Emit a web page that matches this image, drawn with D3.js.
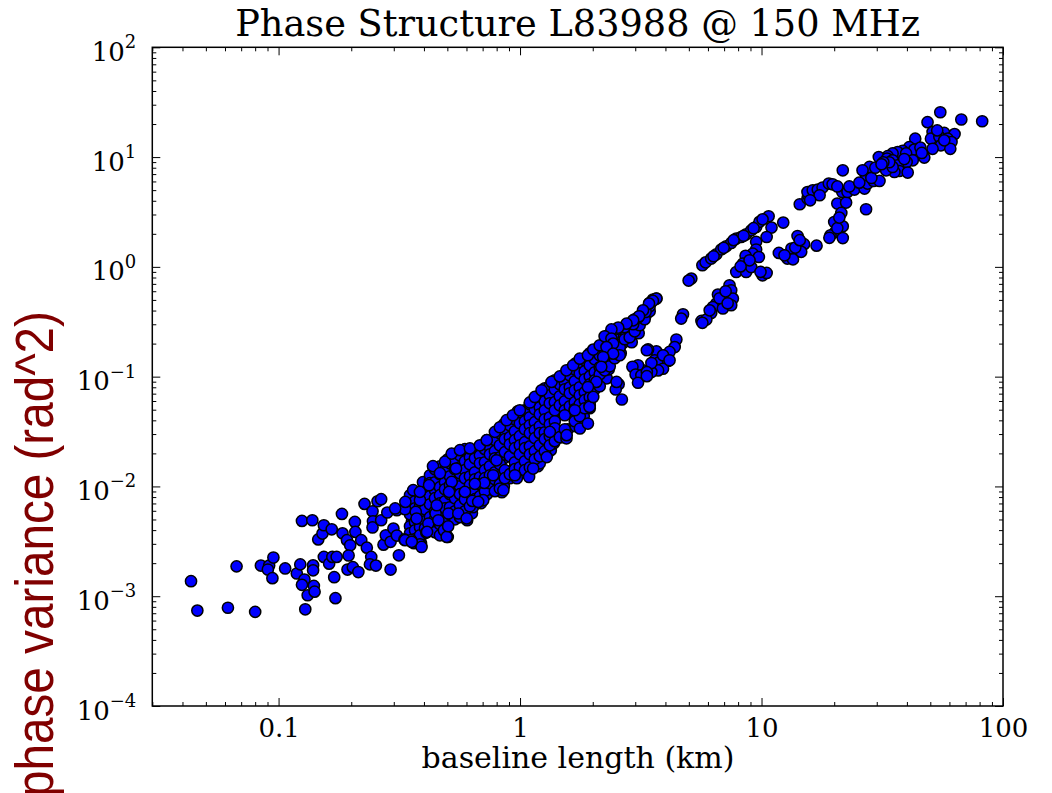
<!DOCTYPE html>
<html>
<head>
<meta charset="utf-8">
<script src="https://cdn.jsdelivr.net/npm/d3@7"></script>
<style>
  body { margin: 0; background: #fff; }
  svg { display: block; }
</style>
</head>
<body>
<div id="chart"></div>
<script>
// ---- data ----
const chartTitle = "Phase Structure L83988 @ 150 MHz";
const xAxisLabel = "baseline length (km)";
const yAxisLabel = "phase variance (rad^2)";

const xMajorTicks = [0.1, 1, 10, 100];
const xTickLabels = ["0.1", "1", "10", "100"];
const yMajorExponents = [-4, -3, -2, -1, 0, 1, 2];

// sparse short-baseline tail, [baseline km, variance rad^2]
const tailPoints = [
  [0.0434,0.00137],[0.0461,0.00074],[0.0617,0.000785],[0.080,0.00072],[0.067,0.00187],
  [0.0845,0.0019],[0.0914,0.0019],[0.0903,0.00175],[0.0943,0.00146],[0.0952,0.00225],
  [0.1065,0.00179],[0.125,0.00485],[0.138,0.00492],[0.119,0.00161],[0.123,0.00195],
  [0.128,0.00142],[0.125,0.00127],[0.132,0.00102],[0.129,0.00076],[0.139,0.00191],
  [0.139,0.00172],[0.140,0.00124],[0.141,0.0011],[0.146,0.00329],[0.152,0.00372],
  [0.154,0.00443],[0.166,0.00407],[0.154,0.00228],[0.162,0.00198],[0.167,0.00228],
  [0.174,0.00228],[0.170,0.00149],[0.172,0.00096],[0.183,0.00562],[0.184,0.00374],
  [0.192,0.00324],[0.198,0.00291],[0.195,0.00235],[0.193,0.00175],[0.203,0.00184],
  [0.214,0.00166],[0.207,0.00475],[0.208,0.00385],[0.220,0.00324],[0.232,0.00277],
  [0.227,0.00693],[0.242,0.00228],[0.239,0.00195],[0.253,0.0019],[0.245,0.00594],
  [0.246,0.00482],[0.245,0.00423],[0.257,0.00733],[0.266,0.00765],[0.266,0.00492],
  [0.272,0.00295],[0.278,0.00359],[0.291,0.00313],[0.291,0.00175],[0.299,0.00413],
  [0.309,0.00357],[0.315,0.00236],[0.282,0.00579],[0.309,0.00607],[0.334,0.0062],
  [0.335,0.00723],[0.332,0.00329],[0.354,0.00324],[0.370,0.00586],[0.373,0.0051],
  [0.391,0.00281],[0.383,0.0088],[0.409,0.0038],[0.417,0.00459],[0.447,0.00567],
  [0.459,0.00492],[0.436,0.0153],[0.466,0.0132],[0.489,0.0168],[0.505,0.00567],
  [0.502,0.00347],[0.484,0.00399],[0.555,0.00567],[0.604,0.00492],[0.591,0.00892],
  [0.634,0.00738],[0.521,0.0110],[0.543,0.01455],[0.508,0.00892],[0.452,0.00674],
  [0.420,0.01026],[0.385,0.00749],[0.711,0.01076],[0.704,0.00749],[0.650,0.01056],
  [0.774,0.01265],[0.799,0.0173],[0.304,0.0063],[0.361,0.00924],[0.385,0.00892]
];

// dense core band, first pass: one baseline per column, variances seen in that column
const bandBaselinesA = [
  0.357,0.3638,0.3889,0.3963,0.4236,0.4572,0.4616,0.4935,0.5028,0.5479,
  0.5637,0.5856,0.6319,0.638,0.6885,0.7153,0.729,0.7942,0.8407,0.857,
  0.9073,0.9699,0.979,1.057,1.088,1.185,1.207,1.242,1.341,1.380,
  1.489,1.532,1.577,1.701,1.801,1.835,1.944,2.000,2.159,2.285,
  2.330,2.467,2.612,2.661,2.900,2.984,3.099,3.313,3.442
];
const bandVariancesA = [
  [0.00703,0.00633,0.00482,0.00434,0.00311],
  [0.00832,0.00718,0.00503,0.00452,0.00344,0.00304],
  [0.00868,0.00749,0.0066,0.00482,0.00407,0.00304],
  [0.01093,0.00798,0.00674,0.00571,0.00408,0.00367],
  [0.01115,0.01005,0.00703,0.0062,0.00472,0.00425],
  [0.01213,0.01048,0.00781,0.00718,0.00547,0.00408,0.00374],
  [0.01465,0.0107,0.00943,0.00689,0.00646,0.00482,0.00399],
  [0.01435,0.01347,0.01004,0.00868,0.00646,0.00558,0.00416],
  [0.01766,0.01347,0.01239,0.00868,0.00749,0.00633,0.00482],
  [0.01803,0.01627,0.01238,0.01093,0.00765,0.00688,0.00525],
  [0.01804,0.01293,0.01163,0.00886,0.00798,0.00594],
  [0.0188,0.01661,0.01188,0.01048,0.00798,0.00733,0.00547],
  [0.02052,0.01766,0.01293,0.01188,0.00905,0.00798,0.0057],
  [0.02045,0.01527,0.01319,0.00963,0.0085,0.00646],
  [0.02095,0.01882,0.01347,0.01139,0.00964,0.00703],
  [0.02225,0.0196,0.01435,0.01347,0.01004,0.00868],
  [0.0264,0.02052,0.01842,0.01375,0.01163,0.0085],
  [0.03056,0.02225,0.0196,0.01496,0.01376,0.01004],
  [0.03117,0.02812,0.02095,0.01766,0.01319,0.01188,0.00886],
  [0.03686,0.02696,0.02472,0.01803,0.01347,0.01004],
  [0.03765,0.03318,0.02532,0.02328,0.01375,0.01188],
  [0.04641,0.03534,0.0312,0.0218,0.0192,0.01593,0.01188],
  [0.04836,0.04363,0.03117,0.02695,0.02009,0.01804,0.01405],
  [0.04739,0.0339,0.02992,0.02273,0.02003,0.01527],
  [0.04737,0.04182,0.0299,0.02812,0.02095,0.01766,0.01319],
  [0.05605,0.04179,0.03928,0.0281,0.0237,0.02003,0.01527],
  [0.05612,0.05044,0.03926,0.03461,0.02532,0.02232,0.01624],
  [0.07061,0.05265,0.04543,0.0339,0.03188,0.0232,0.02045],
  [0.07362,0.06497,0.04545,0.04182,0.03117,0.02695,0.0214],
  [0.08893,0.06628,0.05726,0.04179,0.03686,0.02696,0.02472],
  [0.0889,0.07843,0.05728,0.05044,0.03182,0.02812],
  [0.1051,0.07841,0.0721,0.05265,0.0293],
  [0.1073,0.09669,0.07362,0.06637,0.04737,0.03318],
  [0.1325,0.09467,0.08525,0.06492,0.05847,0.03534],
  [0.1381,0.1217,0.0889,0.07678,0.05728,0.05152,0.03689],
  [0.1382,0.09868,0.08709,0.06357,0.05605,0.04357],
  [0.1353,0.1167,0.08528,0.08009,0.05972,0.05152],
  [0.16,0.1193,0.1073,0.08175,0.0721],
  [0.1669,0.1503,0.1119,0.09465],
  [0.2015,0.1534,0.1382,0.09662],
  [0.2101,0.1815,0.1325,0.1167],
  [0.2538,0.1853,0.16],
  [0.2538,0.2191,0.1634],
  [0.2333,0.2015],
  [0.2702,0.2058],
  [0.2819,0.2485],
  [0.3333,0.2485],
  [0.3623],
  [0.394]
];

// dense core band, second pass (points lying between the first-pass ones)
const bandBaselinesB = [
  0.3502,0.3673,0.3852,0.404,0.4236,0.4443,0.466,0.4888,0.5125,0.5376,
  0.5637,0.5912,0.62,0.6503,0.682,0.7153,0.7501,0.7867,0.8249,0.8652,
  0.9073,0.9516,0.998,1.047,1.098,1.151,1.207,1.266,1.328,1.393,
  1.461,1.532,1.607,1.685,1.767,1.853,1.944,2.039,2.138,2.242,
  2.352,2.467,2.587,2.713,2.845,2.984,3.129,3.282,3.442
];
const bandVariancesB = [
  [0.00832,0.00646,0.00558,0.00434,0.00374],
  [0.00733,0.00633,0.00472,0.00399,0.00331],
  [0.0085,0.0066,0.00571,0.00425,0.00359,0.00297],
  [0.00886,0.00749,0.0062,0.00482,0.00416],
  [0.01265,0.0107,0.00815,0.00688,0.00525,0.00443],
  [0.01435,0.01092,0.00924,0.00781,0.00594,0.00502,0.00383],
  [0.01527,0.01292,0.00984,0.00832,0.00703,0.00536,0.00452,0.00359],
  [0.01405,0.01092,0.00943,0.00733,0.00633,0.00492,0.00391],
  [0.01627,0.01238,0.01026,0.0085,0.00646,0.00558],
  [0.01694,0.01435,0.01092,0.00924,0.00781,0.00594,0.00502],
  [0.0192,0.01496,0.01319,0.01004,0.0085,0.00674,0.00525],
  [0.02185,0.01694,0.01405,0.01188,0.00886,0.00765,0.00594],
  [0.01841,0.01593,0.01238,0.01026,0.00868,0.0066],
  [0.0214,0.01804,0.01347,0.01163,0.00905,0.00765],
  [0.0232,0.0192,0.01627,0.01213,0.01048,0.00815],
  [0.02185,0.01659,0.01405,0.01188,0.00905],
  [0.02273,0.0196,0.01527,0.01265,0.0107],
  [0.0264,0.02095,0.01804,0.01347,0.01163,0.00905],
  [0.03056,0.0237,0.01841,0.01593,0.01238,0.01048],
  [0.03182,0.02695,0.02052,0.01405,0.01188],
  [0.0361,0.0281,0.0242,0.0188,0.01292],
  [0.04094,0.03182,0.0264,0.02232,0.01659,0.01435],
  [0.04268,0.03765,0.02868,0.0237,0.0196,0.01496],
  [0.0494,0.03926,0.03318,0.02532,0.02232,0.01694,0.01405],
  [0.05605,0.04268,0.0361,0.03056,0.0232,0.0196,0.01496],
  [0.05972,0.05044,0.03846,0.0325,0.02754,0.02095,0.01766],
  [0.0677,0.05265,0.04543,0.03534,0.03056,0.0237,0.0188],
  [0.07843,0.05972,0.0494,0.04094,0.03117,0.02695,0.02095],
  [0.08175,0.0677,0.05726,0.04268,0.03686,0.02868,0.0237],
  [0.0927,0.07678,0.0585,0.0494,0.03926,0.0339,0.02585],
  [0.08525,0.06628,0.0549,0.0281],
  [0.0889,0.07678,0.05972,0.0494,0.03318],
  [0.1029,0.08008,0.07061,0.05375],
  [0.1167,0.09075,0.0752,0.0585,0.05044,0.03926],
  [0.1243,0.1073,0.08008,0.0677,0.05605,0.04357],
  [0.1411,0.1119,0.09465,0.07212,0.061,0.05152],
  [0.1634,0.127,0.1007,0.08525,0.06492,0.0549],
  [0.1703,0.1441,0.1096,0.0927,0.07678],
  [0.1567,0.1218,0.1051,0.08175],
  [0.1777,0.1381,0.1143],
  [0.1853,0.16,0.1243],
  [0.2146,0.1703,0.1472],
  [0.2433,0.1853,0.1567],
  [0.259,0.2191],
  [0.2939,0.2285],
  [0.3333,0.259],
  [0.2939],
  [0.394,0.3333],
  [0.4375]
];

// outline of the core band
const bandEdgePoints = [
  [0.334,0.00324],[0.356,0.00313],[0.412,0.00385],[0.497,0.00347],[0.504,0.00434],
  [0.601,0.00511],[0.671,0.00723],[0.825,0.00958],[0.853,0.00924],[0.952,0.01265],
  [1.09,0.0122],[1.133,0.01455],[1.29,0.0185],[1.557,0.0274],[1.56,0.0293],
  [1.77,0.0337],[1.91,0.0374],[1.94,0.053],[2.01,0.0653],[2.07,0.0895],
  [1.91,0.0805],[1.532,0.0445],[1.685,0.0494],[1.328,0.0314],
  [0.521,0.0199],[0.564,0.0214],[0.620,0.0222],[0.682,0.0237],[0.728,0.0264],
  [0.787,0.0314],[0.825,0.0346],[0.88,0.0401],[0.935,0.0445],[0.998,0.0494],
  [1.098,0.0582],[1.151,0.0653],[1.228,0.0752],[1.35,0.0895],[1.461,0.1005],
  [1.557,0.1143],[1.66,0.127],[1.767,0.1458],[1.91,0.1567],[2.01,0.1765],
  [2.138,0.1932],[2.28,0.2331],[2.43,0.2383],[2.54,0.273],[2.713,0.283],
  [2.94,0.30],[3.08,0.345],[3.31,0.388],[3.44,0.469],[3.55,0.504],[3.67,0.514]
];

// clusters just right of the core (2 - 5 km)
const nearClusterPoints = [
  [4.44,0.218],[4.37,0.186],[4.16,0.168],[3.67,0.170],[3.39,0.177],[3.61,0.141],
  [3.79,0.1365],[4.10,0.139],[3.91,0.118],[3.73,0.114],[3.50,0.110],[3.23,0.114],
  [3.08,0.127],[2.92,0.123],[3.01,0.1045],[3.18,0.103],[3.08,0.088],[2.56,0.0853],
  [2.49,0.0764],[2.64,0.0619],[3.35,0.174],[3.91,0.1567],[4.16,0.141],[3.50,0.133],
  [3.35,0.110],[3.35,0.101],[2.51,0.0895],
  [3.67,0.514],[3.55,0.49],[3.42,0.463],[3.23,0.402],[3.11,0.355],[2.94,0.326],
  [2.76,0.304],[2.55,0.280],[2.39,0.269],[2.24,0.2332],[2.39,0.2222],[2.43,0.200],
  [2.28,0.186],[2.43,0.162],[2.21,0.151],[2.17,0.123]
];

// 5 - 12 km
const midPoints = [
  [5.12,0.782],[4.99,0.75],[5.69,1.034],[5.87,1.10],[4.73,0.370],[4.65,0.338],[5.64,0.322],
  [7.37,0.68],[7.49,0.612],[7.14,0.551],[6.60,0.559],[7.61,0.514],[6.92,0.479],[6.50,0.463],
  [6.29,0.431],[6.92,0.418],[7.49,0.447],[6.19,0.380],[5.91,0.331],[5.69,0.309],[6.10,0.402],
  [6.70,0.518],[7.10,0.599],[7.24,0.466],
  [6.19,1.19],[6.50,1.30],[6.81,1.44],[7.14,1.54],[7.49,1.65],[7.86,1.81],[8.24,1.87],
  [8.64,1.98],[9.06,2.15],[9.50,2.31],[9.81,2.57],[10.7,2.89],[11.0,2.28],[10.5,1.87],
  [12.3,2.53],[6.33,1.25],[6.97,1.49],[7.66,1.75],[8.43,1.92],[9.27,2.25],[10.1,2.71],
  [9.50,1.69],[9.50,1.44],[9.20,1.32],[8.59,1.26],[9.75,1.23],[8.37,1.07],[7.86,0.898],
  [8.64,0.898],[9.06,0.995],[10.1,0.838],[10.5,0.880],[8.92,1.148],[8.19,1.01],[9.9,0.90]
];

// longest baselines
const farPoints = [
  [14.1,1.91],[15.0,1.61],[14.6,1.37],[13.3,1.47],[12.8,1.19],[13.5,1.17],[11.8,1.34],
  [16.9,1.56],[13.8,1.50],[12.45,1.275],[14.4,1.75],
  [20.6,3.77],[22.4,3.85],[21.4,3.10],[20.0,2.56],[21.7,2.34],[20.2,2.08],[19.3,1.94],
  [21.7,1.83],[19.1,1.84],[20.6,2.25],[21.0,2.81],
  [14.4,3.72],[15.5,4.19],[15.6,4.49],[15.5,4.80],[16.3,4.99],[17.1,5.06],[17.9,5.28],
  [19.0,5.74],[19.7,5.65],[21.6,4.81],[22.7,4.81],[24.25,5.06],[26.7,5.17],[27.5,5.74],
  [29.1,6.06],[30.8,6.06],[27.1,6.83],[28.0,8.13],[26.2,7.58],[21.7,7.58],[27.1,3.35],
  [20.6,5.40],[23.1,5.40],[25.4,5.85],[28.5,6.45],[17.4,4.49],[15.9,4.04],
  [55.0,25.6],[67.2,22.0],[82.0,21.2],[48.7,20.8],[51.1,16.9],[57.1,16.6],[63.0,16.2],
  [50.3,14.7],[54.5,15.3],[59.0,14.7],[61.2,13.7],[55.3,12.8],[51.1,11.9],[60.5,11.9],
  [43.3,14.7],[40.9,12.3],[42.9,11.7],[38.4,11.4],[36.6,11.1],[34.9,10.8],[33.3,10.2],
  [30.6,10.0],[33.1,9.69],[34.9,9.35],[39.7,10.8],[42.3,9.35],[47.2,9.89],[39.9,9.02],
  [36.6,8.42],[37.2,7.47],[40.3,7.23],[35.5,7.31],[32.8,7.58],[34.9,8.13],[45.5,12.2],
  [53.4,17.5],[46.1,10.9],[39.0,9.6],[33.8,8.97],[57.1,14.2],[31.95,8.97],[29.6,8.0],[31.4,8.6]
];

// ---- layout ----
const W = 1052, H = 793;
const plot = { left: 152.3, right: 1003, top: 47.3, bottom: 706 };

const svg = d3.select("#chart").append("svg")
  .attr("width", W).attr("height", H)
  .attr("viewBox", `0 0 ${W} ${H}`);

const x = d3.scaleLog().domain([0.03, 100]).range([plot.left, plot.right]);
const y = d3.scaleLog().domain([1e-4, 1e2]).range([plot.bottom, plot.top]);

const isMajor = d => Math.abs(Math.log10(d) - Math.round(Math.log10(d))) < 1e-6;
const xMinor = x.ticks().filter(d => !isMajor(d));
const yMinor = y.ticks().filter(d => !isMajor(d));
const yMajor = yMajorExponents.map(e => Math.pow(10, e));

// ---- points ----
const bandPoints = [];
bandBaselinesA.forEach((b, i) => bandVariancesA[i].forEach(v => bandPoints.push([b, v])));
bandBaselinesB.forEach((b, i) => bandVariancesB[i].forEach(v => bandPoints.push([b, v])));
const allPoints = [].concat(bandPoints, tailPoints, bandEdgePoints, nearClusterPoints, midPoints, farPoints);

svg.append("g")
  .selectAll("circle")
  .data(allPoints)
  .join("circle")
  .attr("cx", d => x(d[0]))
  .attr("cy", d => y(d[1]))
  .attr("r", 5.6)
  .attr("fill", "#0000ff")
  .attr("stroke", "#000")
  .attr("stroke-width", 1.5);

// ---- axes: inward ticks on all four sides ----
function styleAxis(sel) {
  sel.select(".domain").remove();
  sel.selectAll(".tick line").attr("stroke", "#000").attr("stroke-width", 1);
}

svg.append("g").attr("transform", `translate(0,${plot.bottom})`)
  .call(d3.axisBottom(x).tickValues(xMajorTicks).tickSize(-8).tickSizeOuter(0).tickPadding(13)
    .tickFormat((d, i) => xTickLabels[i]))
  .call(styleAxis)
  .call(g => g.selectAll("text")
    .attr("font-family", "'DejaVu Serif', serif").attr("font-size", 26).attr("fill", "#000"));
svg.append("g").attr("transform", `translate(0,${plot.bottom})`)
  .call(d3.axisBottom(x).tickValues(xMinor).tickSize(-4).tickSizeOuter(0).tickFormat(""))
  .call(styleAxis);

svg.append("g").attr("transform", `translate(0,${plot.top})`)
  .call(d3.axisTop(x).tickValues(xMajorTicks).tickSize(-8).tickSizeOuter(0).tickFormat(""))
  .call(styleAxis);
svg.append("g").attr("transform", `translate(0,${plot.top})`)
  .call(d3.axisTop(x).tickValues(xMinor).tickSize(-4).tickSizeOuter(0).tickFormat(""))
  .call(styleAxis);

svg.append("g").attr("transform", `translate(${plot.left},0)`)
  .call(d3.axisLeft(y).tickValues(yMajor).tickSize(-8).tickSizeOuter(0).tickFormat(""))
  .call(styleAxis);
svg.append("g").attr("transform", `translate(${plot.left},0)`)
  .call(d3.axisLeft(y).tickValues(yMinor).tickSize(-4).tickSizeOuter(0).tickFormat(""))
  .call(styleAxis);

svg.append("g").attr("transform", `translate(${plot.right},0)`)
  .call(d3.axisRight(y).tickValues(yMajor).tickSize(-8).tickSizeOuter(0).tickFormat(""))
  .call(styleAxis);
svg.append("g").attr("transform", `translate(${plot.right},0)`)
  .call(d3.axisRight(y).tickValues(yMinor).tickSize(-4).tickSizeOuter(0).tickFormat(""))
  .call(styleAxis);

// y tick labels as 10 with superscript exponent
const yLabels = svg.append("g")
  .attr("font-family", "'DejaVu Serif', serif")
  .attr("fill", "#000")
  .attr("text-anchor", "end");
yMajorExponents.forEach(e => {
  const t = yLabels.append("text")
    .attr("x", plot.left - 16)
    .attr("y", y(Math.pow(10, e)) + 13.6);
  t.append("tspan").attr("font-size", 26).text("10");
  t.append("tspan").attr("font-size", 18).attr("dy", -12.7)
    .text(e < 0 ? "\u2212" + Math.abs(e) : String(e));
});

// frame
svg.append("rect")
  .attr("x", plot.left).attr("y", plot.top)
  .attr("width", plot.right - plot.left).attr("height", plot.bottom - plot.top)
  .attr("fill", "none").attr("stroke", "#000").attr("stroke-width", 1.5);

// ---- titles ----
svg.append("text")
  .attr("x", (plot.left + plot.right) / 2).attr("y", 36)
  .attr("text-anchor", "middle")
  .attr("font-family", "'DejaVu Serif', serif").attr("font-size", 36.7)
  .attr("fill", "#000")
  .text(chartTitle);

svg.append("text")
  .attr("x", 578).attr("y", 768)
  .attr("text-anchor", "middle")
  .attr("font-family", "'DejaVu Serif', serif").attr("font-size", 30)
  .attr("fill", "#000")
  .text(xAxisLabel);

svg.append("text")
  .attr("transform", "translate(53,797) rotate(-90)")
  .attr("text-anchor", "start")
  .attr("font-family", "'Liberation Sans Narrow', 'Liberation Sans', Arial, sans-serif")
  .attr("font-size", 53)
  .attr("textLength", 486)
  .attr("lengthAdjust", "spacingAndGlyphs")
  .attr("fill", "#800000")
  .text(yAxisLabel);
</script>
</body>
</html>
